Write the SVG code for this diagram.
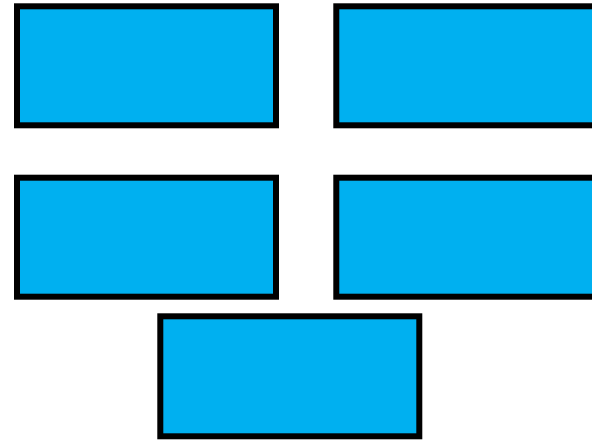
<svg xmlns="http://www.w3.org/2000/svg" width="592" height="441" viewBox="0 0 592 441">
<style>
.box{fill:#00B0F0;stroke:#000;stroke-width:6}
</style>
<rect width="592" height="441" fill="#fff"/>
<g id="node1"><rect class="box" x="17" y="6.3" width="259" height="119"/></g>
<g id="node2"><rect class="box" x="336.3" y="6.3" width="259" height="119"/></g>
<g id="node3"><rect class="box" x="17" y="177.7" width="259" height="119"/></g>
<g id="node4"><rect class="box" x="336.3" y="177.7" width="259" height="119"/></g>
<g id="node5"><rect class="box" x="160.3" y="316.3" width="259" height="120"/></g>
<g id="connectors"></g>
</svg>
